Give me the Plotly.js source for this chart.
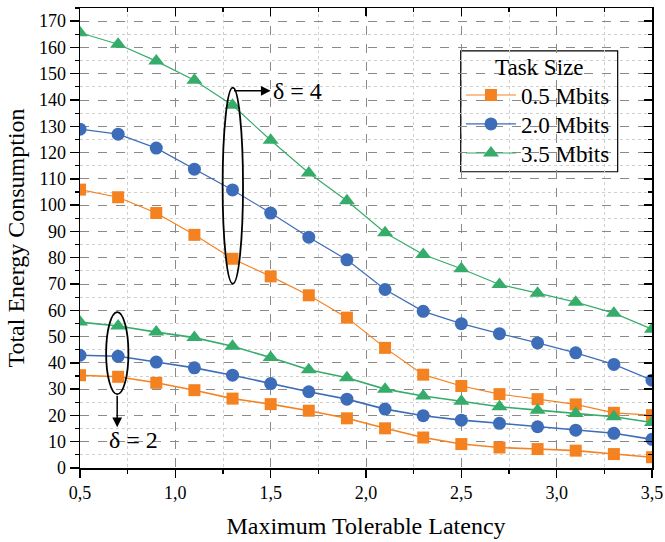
<!DOCTYPE html>
<html><head><meta charset="utf-8">
<script src="https://cdn.plot.ly/plotly-3.0.1.min.js"></script>
<style>body{margin:0;background:#fff}#chart{width:665px;height:542px}</style>
</head><body><div id="chart"></div>
<script>
const latency = [0.5,0.7,0.9,1.1,1.3,1.5,1.7,1.9,2.1,2.3,2.5,2.7,2.9,3.1,3.3,3.5];
// delta = 4 group
const d4_05 = [105.9,103,97,88.7,79.6,72.9,65.7,57.2,45.7,35.5,31.2,28.1,26.2,24.2,21,20.1];
const d4_20 = [128.9,127,121.7,113.7,105.8,97,87.8,79.2,67.9,59.6,54.9,51.1,47.6,43.8,39.4,33.4];
const d4_35 = [165.6,161.2,154.8,147.5,138,124.7,112.2,101.7,89.5,81.2,75.8,69.8,66.5,63.1,58.9,52.8];
// delta = 2 group
const d2_05 = [35.3,34.7,32.4,29.6,26.4,24.3,21.8,18.9,15.1,11.6,9.1,7.8,7.2,6.6,5.3,4.1];
const d2_20 = [42.9,42.5,40.3,38.1,35.3,32.1,29,26.2,22.4,19.9,18.2,17,15.7,14.4,13.2,10.9];
const d2_35 = [55.5,54,51.7,49.6,46.3,42,37.4,34.3,30,27.4,25.4,23.3,22,20.7,19.5,17.3];
const seriesNames = ['0.5 Mbits','2.0 Mbits','3.5 Mbits'];
const legendTitle = 'Task Size';
const colors = ['#F58220','#3D6DB8','#35AC6A'];
const symbols = ['square','circle','triangle-up'];
const msize = [12,13,14];

const groupA = [d4_05,d4_20,d4_35];
const groupB = [d2_05,d2_20,d2_35];
const legendIds = ['legend','legend2','legend3'];
const traces = [];
for (let i=0;i<3;i++){
  traces.push({x:latency,y:groupA[i],name:seriesNames[i],mode:'lines+markers',legend:legendIds[i],
    line:{color:colors[i],width:1.2},marker:{symbol:symbols[i],size:msize[i],color:colors[i]}});
}
for (let i=0;i<3;i++){
  traces.push({x:latency,y:groupB[i],name:seriesNames[i],mode:'lines+markers',showlegend:false,
    line:{color:colors[i],width:1.6},marker:{symbol:symbols[i],size:msize[i],color:colors[i]}});
}
traces.push({x:[0.5],y:[0],xaxis:'x2',yaxis:'y2',mode:'markers',marker:{opacity:0},showlegend:false,hoverinfo:'skip'});

const font = {family:'Liberation Serif, Times New Roman, serif',color:'#000'};
function leg(y){
  return {x:0.666,y:y,xanchor:'left',yanchor:'middle',bgcolor:'rgba(0,0,0,0)',borderwidth:0,
    font:Object.assign({size:23},font),itemwidth:50};
}
const layout = {
  width:665,height:542,
  margin:{l:80,r:13,t:8,b:74},
  paper_bgcolor:'#fff',plot_bgcolor:'#fff',
  separators:',.',
  font:Object.assign({size:18},font),
  showlegend:true,
  legend:leg(0.8108), legend2:leg(0.7478), legend3:leg(0.6847),
  xaxis:{range:[0.5,3.5],dtick:0.5,tick0:0.5,tickformat:'.1f',showline:true,linecolor:'#000',linewidth:1.5,
    ticks:'outside',ticklen:8,tickwidth:1.5,tickcolor:'#000',
    showgrid:true,gridcolor:'#8a8a8a',griddash:'dash',gridwidth:1,zeroline:false,
    minor:{dtick:0.25,ticks:'outside',ticklen:4,tickwidth:1.2,tickcolor:'#000',showgrid:true,gridcolor:'#cfcfcf',griddash:'dot',gridwidth:1},
    tickfont:Object.assign({size:18},font),
    title:{text:'Maximum Tolerable Latency',font:Object.assign({size:24},font),standoff:15}},
  yaxis:{range:[0,175],dtick:10,tick0:0,showline:true,linecolor:'#000',linewidth:1.5,
    ticks:'outside',ticklen:9,tickwidth:1.5,tickcolor:'#000',
    showgrid:true,gridcolor:'#8a8a8a',griddash:'dash',gridwidth:1,zeroline:false,
    minor:{dtick:5,ticks:'outside',ticklen:4,tickwidth:1.2,tickcolor:'#000',showgrid:true,gridcolor:'#cfcfcf',griddash:'dot',gridwidth:1},
    tickfont:Object.assign({size:18},font),
    title:{text:'Total Energy Consumption',font:Object.assign({size:24},font),standoff:7}},
  xaxis2:{overlaying:'x',side:'top',range:[0.5,3.5],dtick:0.5,tick0:0.5,showticklabels:false,showline:true,linecolor:'#000',linewidth:1.5,
    ticks:'inside',ticklen:8,tickwidth:1.5,tickcolor:'#000',showgrid:false,zeroline:false,
    minor:{dtick:0.25,ticks:'inside',ticklen:4,tickwidth:1.2,tickcolor:'#000',showgrid:false}},
  yaxis2:{overlaying:'y',side:'right',range:[0,175],dtick:10,tick0:0,showticklabels:false,showline:true,linecolor:'#000',linewidth:1.5,
    ticks:'inside',ticklen:8,tickwidth:1.5,tickcolor:'#000',showgrid:false,zeroline:false,
    minor:{dtick:5,ticks:'inside',ticklen:4,tickwidth:1.2,tickcolor:'#000',showgrid:false}},
  shapes:[
    {type:'rect',xref:'paper',yref:'paper',x0:0.6656,x1:0.940,y0:0.644,y1:0.907,layer:'between',fillcolor:'#fff',line:{color:'#000',width:1.2}},
    {type:'circle',xref:'x',yref:'y',x0:1.248,x1:1.355,y0:70.1,y1:144.7,line:{color:'#000',width:1.8}},
    {type:'circle',xref:'x',yref:'y',x0:0.637,x1:0.754,y0:28.1,y1:59.3,line:{color:'#000',width:1.8}}
  ],
  annotations:[
    {x:0.8025,y:0.870,xref:'paper',yref:'paper',text:legendTitle,showarrow:false,xanchor:'center',yanchor:'middle',font:Object.assign({size:23},font)},
    {x:1.5,y:143.5,ax:1.3,ay:143.5,axref:'x',ayref:'y',xref:'x',yref:'y',text:'',showarrow:true,arrowhead:2,arrowsize:1.3,arrowwidth:1.5,arrowcolor:'#000'},
    {x:1.5,y:143.5,xref:'x',yref:'y',text:'δ = 4',showarrow:false,xanchor:'left',yanchor:'middle',font:Object.assign({size:24},font)},
    {x:0.695,y:15.5,ax:0.695,ay:28.1,axref:'x',ayref:'y',xref:'x',yref:'y',text:'',showarrow:true,arrowhead:2,arrowsize:1.3,arrowwidth:1.5,arrowcolor:'#000'},
    {x:0.78,y:10.6,xref:'x',yref:'y',text:'δ = 2',showarrow:false,xanchor:'center',yanchor:'middle',font:Object.assign({size:24},font)}
  ]
};
Plotly.newPlot('chart',traces,layout,{displayModeBar:false,staticPlot:true});
</script></body></html>
